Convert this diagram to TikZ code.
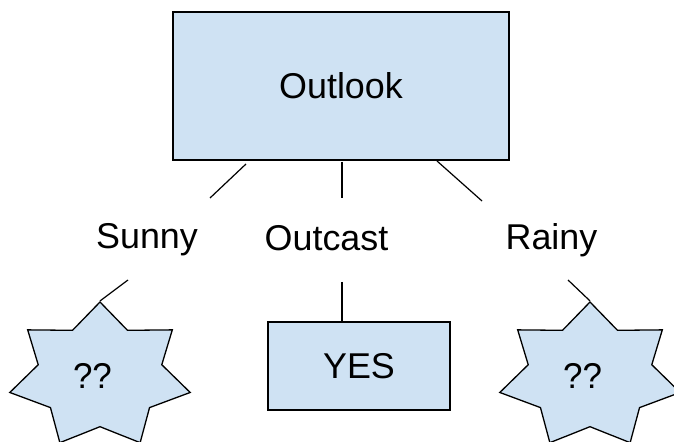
\documentclass[tikz,border=0pt]{standalone}
\usepackage{fontspec}
\setmainfont{Liberation Sans}
\usetikzlibrary{shapes.geometric}
\definecolor{boxblue}{HTML}{CFE2F3}
\begin{document}
\begin{tikzpicture}[x=1bp,y=-1bp,
  box/.style={draw=black, fill=boxblue, line width=1.5bp, inner sep=0pt},
  lbl/.style={font=\fontsize{36}{43}\selectfont, inner sep=0pt, anchor=base},
  bigtxt/.style={font=\fontsize{36}{43}\selectfont},
  starnode/.style={star, star points=7, star point ratio=1.46, draw=black,
    fill=boxblue, line width=1.3bp, minimum size=148bp, inner sep=0pt, xscale=1.25},
  conn/.style={line width=1.2bp}]
\clip (0,0) rectangle (674,442);
\fill[white] (0,0) rectangle (674,442);
% top box
\node[box, minimum width=336bp, minimum height=148bp, bigtxt] (outlook) at (341,86) {Outlook};
% branch labels
\node[lbl] (sunny) at (147,249) {Sunny};
\node[lbl] (outcast) at (326.5,251) {Outcast};
\node[lbl] (rainy) at (551.5,250) {Rainy};
% leaves
\node[starnode, bigtxt] (star1) at (100,376) {\kern-6bp\scalebox{0.78}[1]{??}\kern6bp};
\node[starnode, bigtxt] (star2) at (590,376) {\kern-6bp\scalebox{0.78}[1]{??}\kern6bp};
\node[box, bigtxt, minimum width=182bp, minimum height=88bp] (yes) at (359,366) {YES};
% connector ends
\coordinate (o1) at (246,164); \coordinate (s1t) at (210,198);
\coordinate (o2) at (342,162); \coordinate (s2t) at (342,198);
\coordinate (o3) at (437,161); \coordinate (s3t) at (482,201);
\coordinate (sb) at (128,280);
\coordinate (ob) at (342,282);
\coordinate (rb) at (568,280);
\draw[conn] (o1) -- (s1t);
\draw[conn] (o2) -- (s2t);
\draw[conn] (o3) -- (s3t);
\draw[conn] (sb) -- (star1.outer point 1);
\draw[conn] (ob) -- (ob |- yes.north);
\draw[conn] (rb) -- (star2.outer point 1);
\end{tikzpicture}
\end{document}
